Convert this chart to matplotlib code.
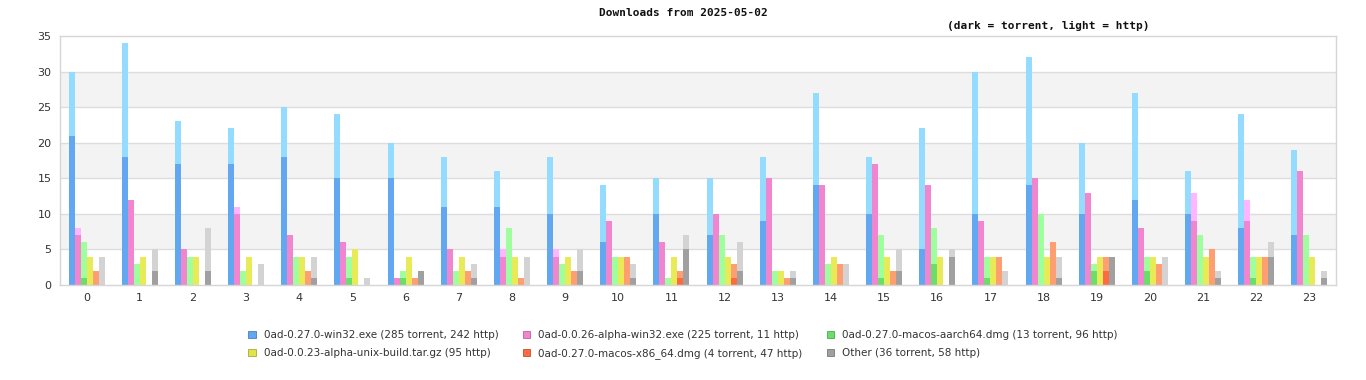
import matplotlib
matplotlib.use("Agg")
import matplotlib.pyplot as plt
from matplotlib.patches import Patch
import numpy as np

hours = list(range(24))
series = [
    "0ad-0.27.0-win32.exe (285 torrent, 242 http)",
    "0ad-0.0.26-alpha-win32.exe (225 torrent, 11 http)",
    "0ad-0.27.0-macos-aarch64.dmg (13 torrent, 96 http)",
    "0ad-0.0.23-alpha-unix-build.tar.gz (95 http)",
    "0ad-0.27.0-macos-x86_64.dmg (4 torrent, 47 http)",
    "Other (36 torrent, 58 http)",
]
win32_torrent = [21, 18, 17, 17, 18, 15, 15, 11, 11, 10, 6, 10, 7, 9, 14, 10, 5, 10, 14, 10, 12, 10, 8, 7]
win32_http = [9, 16, 6, 5, 7, 9, 5, 7, 5, 8, 8, 5, 8, 9, 13, 8, 17, 20, 18, 10, 15, 6, 16, 12]
alpha_torrent = [7, 12, 5, 10, 7, 6, 1, 5, 4, 4, 9, 6, 10, 15, 14, 17, 14, 9, 15, 13, 8, 9, 9, 16]
alpha_http = [1, 0, 0, 1, 0, 0, 0, 0, 1, 1, 0, 0, 0, 0, 0, 0, 0, 0, 0, 0, 0, 4, 3, 0]
aarch_torrent = [1, 0, 0, 0, 0, 1, 1, 0, 0, 0, 0, 0, 0, 0, 0, 1, 3, 1, 0, 2, 2, 0, 1, 0]
aarch_http = [5, 3, 4, 2, 4, 3, 1, 2, 8, 3, 4, 1, 7, 2, 3, 6, 5, 3, 10, 1, 2, 7, 3, 7]
unix_torrent = [0] * 24
unix_http = [4, 4, 4, 4, 4, 5, 4, 4, 4, 4, 4, 4, 4, 2, 4, 4, 4, 4, 4, 4, 4, 4, 4, 4]
x86_torrent = [0, 0, 0, 0, 0, 0, 0, 0, 0, 0, 0, 1, 1, 0, 0, 0, 0, 0, 0, 2, 0, 0, 0, 0]
x86_http = [2, 0, 0, 0, 2, 0, 1, 2, 1, 2, 4, 1, 2, 1, 3, 2, 0, 4, 6, 2, 3, 5, 4, 0]
other_torrent = [0, 2, 2, 0, 1, 0, 2, 1, 0, 2, 1, 5, 2, 1, 0, 2, 4, 0, 1, 4, 0, 1, 4, 1]
other_http = [4, 3, 6, 3, 3, 1, 0, 2, 4, 3, 2, 2, 4, 1, 3, 3, 1, 2, 3, 0, 4, 1, 2, 1]

torrents = [win32_torrent, alpha_torrent, aarch_torrent, unix_torrent, x86_torrent, other_torrent]
https = [win32_http, alpha_http, aarch_http, unix_http, x86_http, other_http]
dark = ["#62a8f0", "#f285cf", "#6bdd6b", "#e0e34a", "#ff6b40", "#a0a0a0"]
light = ["#94dcff", "#ffb5ff", "#9fff9f", "#e8eb55", "#ff9e70", "#d3d3d3"]
edge = ["#4a7fb5", "#b5649b", "#4fa54f", "#a8aa38", "#c04f30", "#787878"]

fig = plt.figure(figsize=(13.66, 3.8), dpi=100)
ax = fig.add_axes([60 / 1366, 95 / 380, 1276 / 1366, 249 / 380])

# background bands
for lo in range(5, 35, 10):
    ax.axhspan(lo, lo + 5, color="#f3f3f3", zorder=0, lw=0)
for y in range(5, 35, 5):
    ax.axhline(y, color="#dddddd", lw=1, zorder=0.5)

x = np.arange(24)
w = 0.113
for i in range(6):
    off = (i - 2.5) * w
    t = np.array(torrents[i])
    h = np.array(https[i])
    ax.bar(x + off, t, width=w, color=dark[i], lw=0, zorder=2)
    ax.bar(x + off, h, width=w, bottom=t, color=light[i], lw=0, zorder=2)

ax.set_xlim(-0.5, 23.5)
ax.set_ylim(0, 35)
ax.set_xticks(x)
ax.set_xticklabels([str(hh) for hh in hours])
ax.set_yticks(range(0, 36, 5))
ax.tick_params(length=0, labelsize=8, colors="#333333", pad=6)
for s in ax.spines.values():
    s.set_color("#d6d6d6")
    s.set_linewidth(1)

fig.text(683 / 1366, 1 - 13 / 380, "Downloads from 2025-05-02", ha="center", va="center",
         family="DejaVu Sans Mono", fontweight="bold", fontsize=8, color="#111111")
fig.text(1048 / 1366, 1 - 26 / 380, "(dark = torrent, light = http)", ha="center", va="center",
         family="DejaVu Sans Mono", fontweight="bold", fontsize=8, color="#111111")

# row-major legend order for 3 columns
order = [0, 3, 1, 4, 2, 5]
handles = [Patch(facecolor=dark[i], edgecolor=edge[i], lw=0.6) for i in order]
labels = [series[i] for i in order]
leg = fig.legend(handles, labels, ncol=3, loc="center", bbox_to_anchor=(683 / 1366, 1 - 344.5 / 380),
                 frameon=False, fontsize=7.5, handlelength=0.7, handleheight=0.7,
                 columnspacing=2.3, handletextpad=0.8, labelspacing=0.75)
for t in leg.get_texts():
    t.set_color("#333333")

fig.savefig("out.png", dpi=100)
